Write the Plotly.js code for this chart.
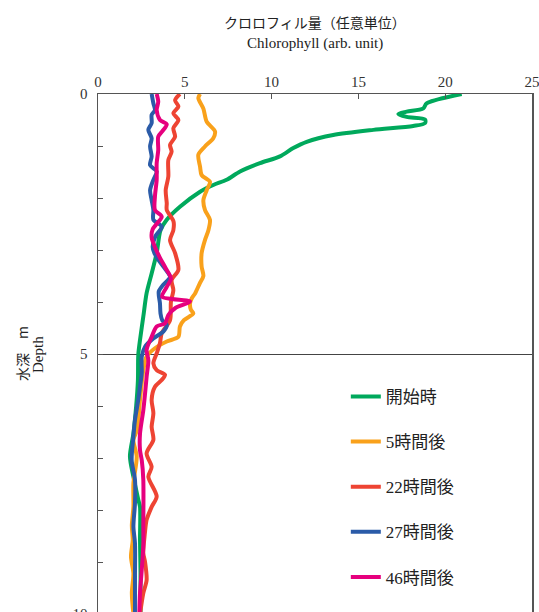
<!DOCTYPE html>
<html>
<head>
<meta charset="utf-8">
<script src="https://cdn.plot.ly/plotly-3.0.1.min.js"></script>
<style>
html,body{margin:0;padding:0;overflow:hidden;background:#fff;}
#chart{width:539px;height:640px;}
</style>
</head>
<body>
<div id="chart"></div>
<script>
// Series names
const seriesNames = ["開始時", "5時間後", "22時間後", "27時間後", "46時間後"];

// 開始時 (green)
const depth0 = [0,0.18,0.275,0.34,0.385,0.44,0.49,0.56,0.615,0.69,0.79,0.92,1.04,1.2,1.33,1.49,1.65,1.75,1.88,2.17,2.42,2.62,3.06,3.45,3.83,4.28,4.73,5.02,5.5,6.0,6.53,6.97,7.36,7.8,7.94,8.58,9.2,10];
const chl0   = [20.95,18.93,18.74,17.78,17.3,17.78,18.84,18.84,18.16,15.86,13.55,12.02,11.25,10.48,9.33,8.18,7.41,6.64,5.88,4.72,3.96,3.6,3.38,3.09,2.8,2.61,2.42,2.32,2.3,2.2,2.04,1.84,2.04,2.32,2.42,2.42,2.45,2.45];

// 5時間後 (orange)
const depth5 = [0,0.08,0.28,0.53,0.72,0.85,1.01,1.17,1.4,1.56,1.69,1.85,2.04,2.23,2.42,2.62,2.81,3.06,3.32,3.5,3.65,3.83,3.93,4.03,4.15,4.22,4.35,4.47,4.67,4.76,4.89,5.05,5.31,5.88,6.46,6.65,6.97,7.49,7.94,8.3,8.58,8.9,9.22,9.6,10];
const chl5   = [5.88,5.78,6.07,6.26,6.74,6.64,6.16,5.78,5.88,5.97,6.45,6.26,6.07,6.16,6.45,6.36,6.16,5.97,5.97,6.07,5.85,5.6,5.4,5.3,5.35,5.49,4.95,4.72,4.63,3.96,3.28,2.8,2.61,2.42,2.25,2.04,2.23,2.04,2.04,1.95,2.0,1.9,2.04,1.95,2.04];

// 22時間後 (red)
const depth22 = [0,0.12,0.24,0.37,0.5,0.66,0.82,0.98,1.11,1.27,1.59,1.85,2.1,2.23,2.45,2.62,2.81,3.06,3.38,3.58,3.77,4.0,4.35,4.6,4.79,4.99,5.18,5.31,5.4,5.5,5.63,5.88,6.14,6.4,6.65,6.91,7.17,7.36,7.74,7.94,8.19,8.45,8.83,9.0,9.35,9.6,10];
const chl22   = [4.72,4.44,4.63,4.34,4.63,4.34,4.44,4.15,4.24,4.05,4.05,3.9,3.96,3.96,4.35,4.34,4.15,4.44,4.63,4.24,4.34,4.2,4.15,3.67,3.57,3.38,3.19,3.38,3.86,3.67,3.28,3.09,3.19,3.09,3.19,2.8,3.09,2.9,3.38,3.09,2.8,2.7,2.61,2.71,2.8,2.61,2.42];

// 27時間後 (blue)
const depth27 = [0,0.18,0.31,0.4,0.56,0.69,0.85,1.01,1.2,1.37,1.49,1.65,1.85,2.04,2.23,2.42,2.55,2.74,2.94,3.06,3.2,3.38,3.52,3.67,3.8,4.03,4.22,4.35,4.44,4.57,4.7,4.86,5.05,5.37,5.63,5.88,6.27,6.59,7.04,7.42,7.87,8.32,8.64,9.28,10];
const chl27   = [3.09,3.19,3.28,3.09,3.09,2.9,3.09,3.0,3.09,3.0,3.38,3.19,3.0,3.09,3.19,3.19,3.67,3.3,3.15,3.25,3.5,3.9,4.15,3.76,3.5,3.57,3.6,3.7,3.96,3.76,3.19,2.71,2.52,2.52,2.42,2.32,2.13,2.04,1.94,2.13,2.13,2.04,2.13,2.13,2.13];

// 46時間後 (magenta)
const depth46 = [0,0.15,0.31,0.5,0.58,0.72,0.82,1.08,1.33,1.65,1.97,2.23,2.36,2.49,2.6,2.76,2.94,3.15,3.35,3.55,3.71,3.9,3.99,4.12,4.25,4.41,4.47,4.67,4.92,5.12,5.44,5.76,6.08,6.53,6.85,7.04,7.42,8.32,8.7,9.15,9.6,10];
const chl46   = [3.38,3.47,3.38,3.57,3.96,3.7,3.47,3.47,3.38,3.38,3.28,3.28,3.67,3.4,3.15,3.09,3.28,3.57,3.9,4.2,3.96,3.7,5.3,4.44,4.05,3.86,3.38,3.09,2.8,2.9,2.8,2.71,2.61,2.42,2.42,2.52,2.61,2.61,2.61,2.52,2.42,2.38];

// Tick labels
const xTicks = [0, 5, 10, 15, 20, 25];
const yTicks = [0, 5, 10];

const colors = ["#00a95c", "#f9a11b", "#ee4433", "#2b5ba8", "#e6007e"];
const depths = [depth0, depth5, depth22, depth27, depth46];
const chls = [chl0, chl5, chl22, chl27, chl46];

const serif = "'Liberation Serif', 'DejaVu Serif', 'Noto Sans CJK JP', serif";

const traces = seriesNames.map((n, i) => ({
  type: "scatter",
  mode: "lines",
  name: n,
  x: chls[i],
  y: depths[i],
  legendgroup: "g" + i,
  line: {color: colors[i], width: 4, shape: "spline", smoothing: 0.8},
  hoverinfo: "skip"
}));

const layout = {
  width: 539,
  height: 640,
  margin: {l: 98, r: 7, t: 94, b: 26},
  paper_bgcolor: "#fff",
  plot_bgcolor: "#fff",
  showlegend: true,
  legend: {
    x: 0.571, y: 0.452, xanchor: "left", yanchor: "top",
    bgcolor: "rgba(0,0,0,0)",
    font: {family: serif, size: 17, color: "#222"},
    tracegroupgap: 20,
    itemwidth: 30
  },
  xaxis: {
    side: "top",
    range: [0, 25],
    tickmode: "array",
    tickvals: xTicks,
    ticktext: xTicks.map(String),
    ticks: "inside",
    ticklen: 5,
    tickcolor: "#555",
    showline: true,
    linecolor: "#555",
    linewidth: 1.5,
    mirror: true,
    showgrid: false,
    zeroline: false,
    ticklabeloverflow: "allow",
    tickfont: {family: serif, size: 15, color: "#333"}
  },
  yaxis: {
    range: [10, 0],
    tickmode: "array",
    tickvals: yTicks,
    ticktext: yTicks.map(String),
    ticks: "inside",
    ticklen: 5,
    tickcolor: "#555",
    showline: true,
    linecolor: "#555",
    linewidth: 1.5,
    mirror: true,
    showgrid: true,
    gridcolor: "#444",
    gridwidth: 1,
    zeroline: false,
    ticklabelstandoff: 6,
    ticklabeloverflow: "allow",
    tickfont: {family: serif, size: 15, color: "#333"},
    minor: {tickmode: "linear", tick0: 0, dtick: 1, ticks: "inside", ticklen: 5, tickcolor: "#555", showgrid: false}
  },
  annotations: [
    {xref: "paper", yref: "paper", x: 0.5, y: 1.138, text: "クロロフィル量（任意単位）",
     showarrow: false, xanchor: "center", yanchor: "middle",
     font: {family: "'Noto Sans CJK JP', sans-serif", size: 14, color: "#222"}},
    {xref: "paper", yref: "paper", x: 0.5, y: 1.098, text: "Chlorophyll (arb. unit)",
     showarrow: false, xanchor: "center", yanchor: "middle",
     font: {family: serif, size: 15, color: "#222"}},
    {xref: "paper", yref: "paper", x: (22 - 98) / 434, y: 0.5, text: "水深　m",
     showarrow: false, xanchor: "center", yanchor: "middle", textangle: -90,
     font: {family: "'Noto Sans CJK JP', serif", size: 14, color: "#222"}},
    {xref: "paper", yref: "paper", x: (38 - 98) / 434, y: 0.5, text: "Depth",
     showarrow: false, xanchor: "center", yanchor: "middle", textangle: -90,
     font: {family: serif, size: 15, color: "#222"}}
  ]
};

Plotly.newPlot("chart", traces, layout, {staticPlot: true, displayModeBar: false});
</script>
</body>
</html>
